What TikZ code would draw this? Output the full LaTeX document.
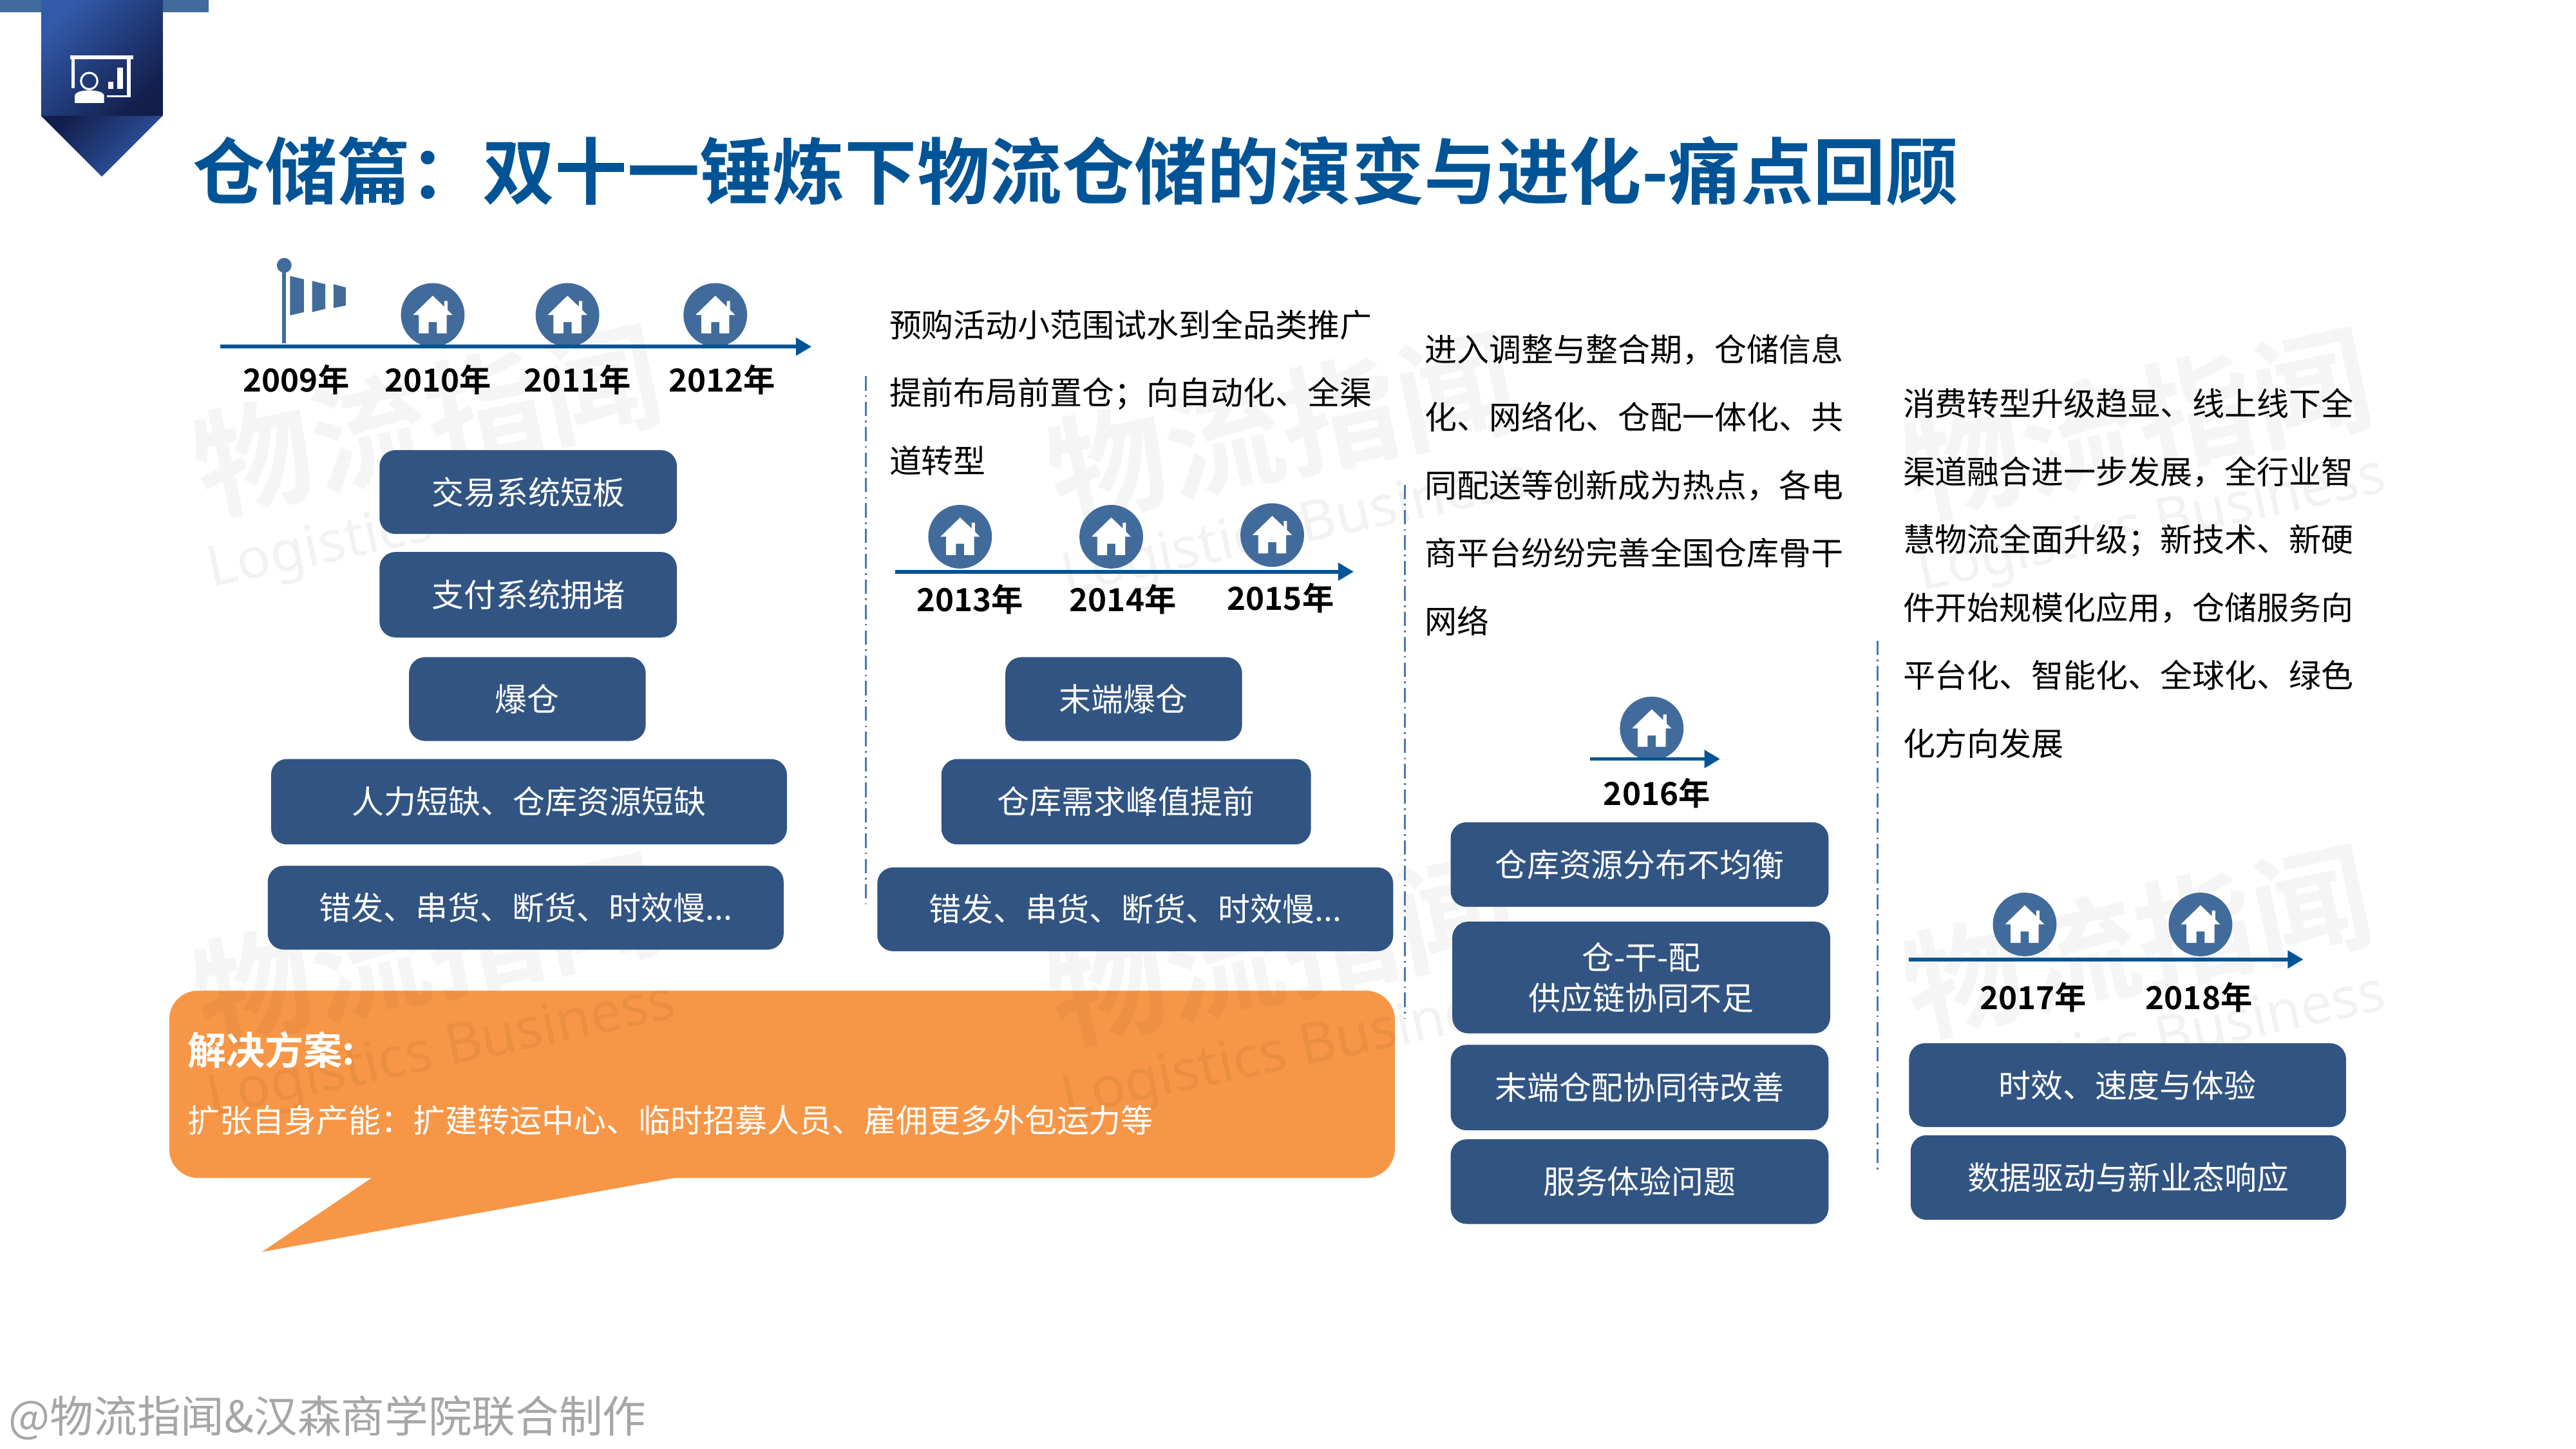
\documentclass[tikz,border=0pt]{standalone}
\usepackage{fontspec}
\setmainfont{Noto Sans CJK SC}[BoldFont={Noto Sans CJK SC Bold}]
\newfontfamily\wmfont{Noto Sans}
\usetikzlibrary{arrows.meta,positioning,calc,shapes}
\definecolor{titleblue}{RGB}{0,84,150}
\definecolor{markblue}{RGB}{65,107,155}
\definecolor{boxblue}{RGB}{49,84,130}
\definecolor{sepblue}{RGB}{70,120,175}
\definecolor{calloutor}{RGB}{247,150,70}
\definecolor{badgelt}{RGB}{50,90,170}
\definecolor{badgedk}{RGB}{18,30,75}
\tikzset{
  x=0.02cm, y=-0.02cm,
  axisln/.style={-{Triangle[length=1.9mm,width=2.1mm]}, line width=1.3pt, titleblue},
  sepln/.style={line width=0.65pt, sepblue, dash pattern=on 5pt off 1.6pt on 0.6pt off 1.6pt},
  issuebox/.style={fill=boxblue, rounded corners=5.5pt, text=white, font=\fontsize{11.15}{14}\selectfont,
    inner sep=0pt, align=center},
  yeartxt/.style={font=\fontsize{11}{13}\selectfont\bfseries, inner sep=0pt},
  bodytxt/.style={font=\fontsize{11.15}{23.55}\selectfont, inner sep=0pt, anchor=north west, align=left},
  wmcn/.style={font=\fontsize{41}{41}\selectfont\bfseries, text=black, opacity=0.04, rotate=12, inner sep=0pt},
  wmen/.style={font=\wmfont\fontsize{19.5}{21}\selectfont, text=black, opacity=0.05, rotate=12, inner sep=0pt},
}
\newcommand{\issue}[6]{% name, left, top, right, bottom, text
  \node[issuebox, minimum width={(#4-#2)*0.02cm}, minimum height={(#5-#3)*0.02cm}] (#1)
    at ({(#2+#4)/2},{(#3+#5)/2}) {#6};
}
\newcommand{\homept}[2]{%
  \node[circle, fill=markblue, minimum size=0.775cm, inner sep=0pt] (#1) at #2 {};
  \fill[white,shift={(#1.center)}] (-12,0) -- (0,-11.7) -- (7,-5) -- (7,-8.5) -- (9,-8.5) -- (9,-3)
    -- (12,0) -- (8.5,0) -- (8.5,11.2) -- (2.5,11.2) -- (2.5,4.3) -- (-2.5,4.3) -- (-2.5,11.2)
    -- (-8.5,11.2) -- (-8.5,0) -- cycle;
}
\begin{document}
\begin{tikzpicture}
  \useasboundingbox (0,0) rectangle (1568,882);
  \fill[white] (0,0) rectangle (1568,882);
  % Badge
  \fill[markblue] (0,0) rectangle (127,7.5);
  \shade[top color=badgelt, bottom color=badgedk, shading angle=45] (25,0) rectangle (99,70.5);
  \shade[top color=badgedk, bottom color=badgelt, shading angle=45]
    (25,70.5) -- (99,70.5) -- (62,107.5) -- cycle;
  \fill[white] (42.6,33.6) rectangle (81.3,36);
  \fill[white] (43.6,36) rectangle (45.5,53.6);
  \fill[white] (77.4,36) rectangle (79.6,59.2);
  \fill[white] (65,58) rectangle (79.6,59.2);
  \fill[white] (66,49.6) rectangle (69,54);
  \fill[white] (71.5,41.3) rectangle (74.7,54);
  \draw[white, line width=0.7pt] (54.3,49.3) circle (5);
  \fill[white] (45.5,62.7) -- (45.5,58.5) .. controls (45.5,56) and (50,55) .. (54.3,55)
    .. controls (59,55) and (63.4,56) .. (63.4,58.5) -- (63.4,62.7) -- cycle;
  % Title
  \node[font=\fontsize{25.1}{30}\selectfont\bfseries, text=titleblue, inner sep=0pt, anchor=west] (title)
    at (117,104) {仓储篇：双十一锤炼下物流仓储的演变与进化-痛点回顾};
  % Callout
  \fill[calloutor, rounded corners=10pt] (103,603) rectangle (849,717);
  \fill[calloutor] (227,716.5) -- (159.5,762) -- (413,716.5) -- cycle;
  % Watermarks
  \foreach \n/\wx/\wy in {a/260/256, b/260/578, c/780/260, d/780/578, e/1301/258, f/1301/573}{
    \node[wmcn] (wc\n) at (\wx,\wy) {物流指闻};
    \node[wmen] (we\n) at ({\wx+9},{\wy+63}) {Logistics Business};
  }
  % 2009-2012
  \coordinate (tla) at (134,211);
  \coordinate (tlb) at (494,211);
  \draw[markblue, line width=1.3pt] (173,162) -- (173,209);
  \fill[markblue] (173,161.5) circle (4.5);
  \fill[markblue] (176.5,168) -- (185,170) -- (185,190) -- (176.5,192) -- cycle;
  \fill[markblue] (190,171) -- (198,173) -- (198,188) -- (190,190) -- cycle;
  \fill[markblue] (203,173) -- (210.5,175) -- (210.5,186) -- (203,187.5) -- cycle;
  \homept{ha}{(263.4,191.7)}
  \homept{hb}{(345.4,191.7)}
  \homept{hc}{(435.4,191.7)}
  \draw[axisln] (tla) -- (tlb);
  \node[yeartxt] (ya) at (180.5,231) {2009年};
  \node[yeartxt] (yb) at (266.5,231) {2010年};
  \node[yeartxt] (yc) at (351.5,231) {2011年};
  \node[yeartxt] (yd) at (439.5,231) {2012年};
  \issue{ba}{231}{274}{412}{325}{交易系统短板}
  \issue{bb}{231}{336}{412}{388}{支付系统拥堵}
  \issue{bc}{249}{400}{393}{451}{爆仓}
  \issue{bd}{165}{462}{479}{514}{人力短缺、仓库资源短缺}
  \issue{be}{163}{527}{477}{578}{错发、串货、断货、时效慢...}
  \draw[sepln] (527,229) -- (527,550);
  % 2013-2015
  \node[bodytxt] (ta) at (541,188) {预购活动小范围试水到全品类推广\\提前布局前置仓；向自动化、全渠\\道转型};
  \coordinate (tma) at (545,348);
  \coordinate (tmb) at (824,348);
  \homept{hd}{(584.4,326.7)}
  \homept{he}{(676.4,326.7)}
  \homept{hf}{(774.4,325.7)}
  \draw[axisln] (tma) -- (tmb);
  \node[yeartxt] (ye) at (590.5,365) {2013年};
  \node[yeartxt] (yf) at (683.5,365) {2014年};
  \node[yeartxt] (yg) at (779.5,364) {2015年};
  \issue{bf}{612}{400}{756}{451}{末端爆仓}
  \issue{bg}{573}{462}{798}{514}{仓库需求峰值提前}
  \issue{bh}{534}{528}{848}{579}{错发、串货、断货、时效慢...}
  \draw[sepln] (855,295) -- (855,620);
  % 2016
  \node[bodytxt] (tb) at (867,203) {进入调整与整合期，仓储信息\\化、网络化、仓配一体化、共\\同配送等创新成为热点，各电\\商平台纷纷完善全国仓库骨干\\网络};
  \coordinate (tna) at (968,462);
  \coordinate (tnb) at (1047,462);
  \homept{hg}{(1005.4,443.4)}
  \draw[axisln] (tna) -- (tnb);
  \node[yeartxt] (yh) at (1008.5,483) {2016年};
  \issue{bi}{883}{500.5}{1113}{552}{仓库资源分布不均衡}
  \issue{bj}{884}{561}{1114}{629}{仓-干-配\\供应链协同不足}
  \issue{bk}{883}{636}{1113}{688}{末端仓配协同待改善}
  \issue{bl}{883}{693.5}{1113}{745}{服务体验问题}
  \draw[sepln] (1143,390) -- (1143,712);
  % 2017-2018
  \node[bodytxt] (tc) at (1158,236) {消费转型升级趋显、线上线下全\\渠道融合进一步发展，全行业智\\慧物流全面升级；新技术、新硬\\件开始规模化应用，仓储服务向\\平台化、智能化、全球化、绿色\\化方向发展};
  \coordinate (toa) at (1162,584);
  \coordinate (tob) at (1402,584);
  \homept{hh}{(1232.4,562.7)}
  \homept{hi}{(1339.4,562.7)}
  \draw[axisln] (toa) -- (tob);
  \node[yeartxt] (yi) at (1237.5,607) {2017年};
  \node[yeartxt] (yj) at (1338.5,607) {2018年};
  \issue{bm}{1162}{635}{1428}{686}{时效、速度与体验}
  \issue{bn}{1163}{691}{1428}{742.5}{数据驱动与新业态响应}
  % Callout text
  \node[font=\fontsize{13.4}{15}\selectfont\bfseries, text=white, inner sep=0pt, anchor=west] (sa)
    at (114,639) {解决方案:};
  \node[font=\fontsize{11.15}{14}\selectfont, text=white, inner sep=0pt, anchor=west] (sb)
    at (114,682) {扩张自身产能：扩建转运中心、临时招募人员、雇佣更多外包运力等};
  % Footer
  \node[font=\fontsize{15.1}{18}\selectfont, text=black!35, inner sep=0pt, anchor=west] (foot)
    at (5,863) {@物流指闻\&汉森商学院联合制作};
\end{tikzpicture}
\end{document}
